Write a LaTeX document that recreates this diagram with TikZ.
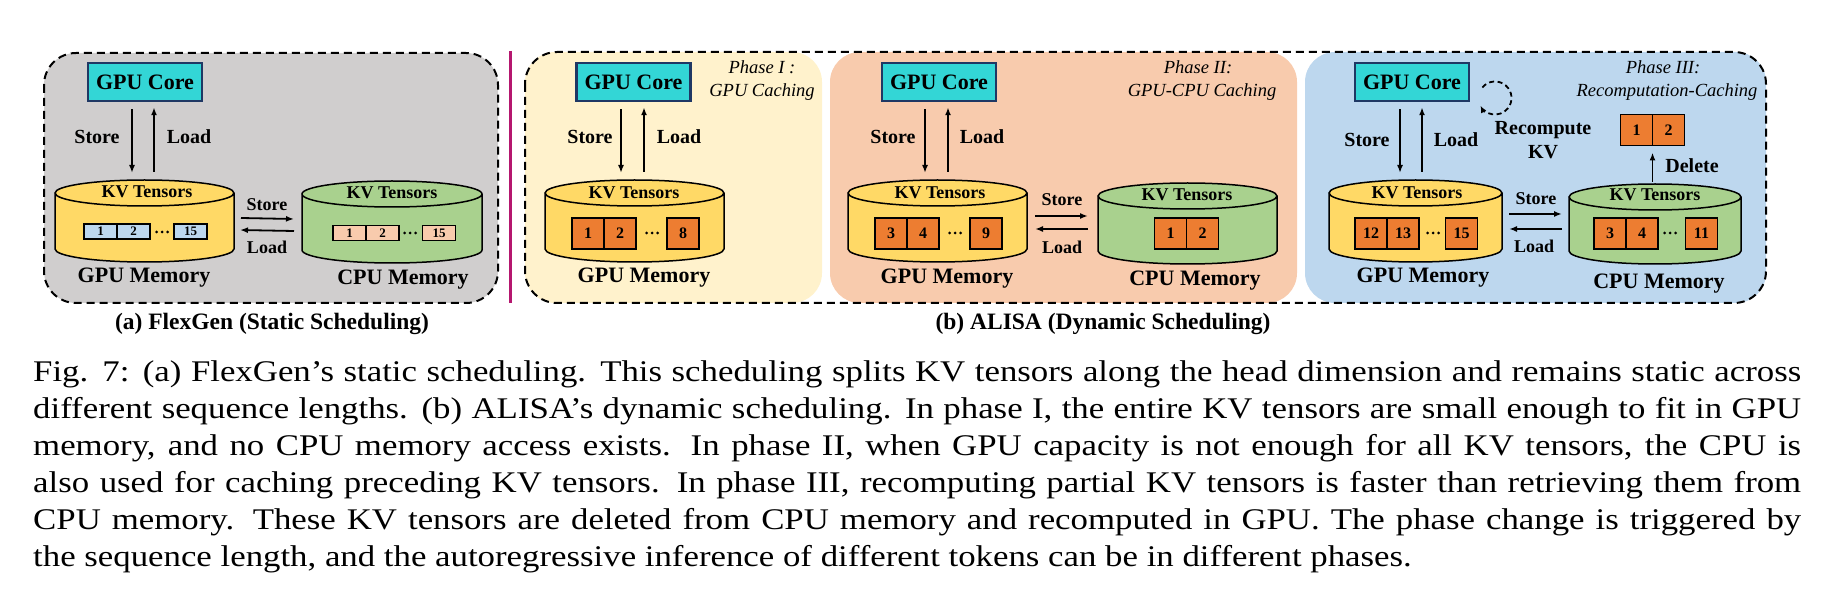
\documentclass[tikz,border=0pt]{standalone}
\usepackage{fontspec}
\setmainfont{Liberation Serif}
\newfontfamily\capfont{Liberation Serif}[FakeStretch=1.16]
\usetikzlibrary{arrows.meta,calc}
\definecolor{grayA}{HTML}{D0CECE}
\definecolor{phA}{HTML}{FFF2CC}
\definecolor{phB}{HTML}{F8CBAD}
\definecolor{phC}{HTML}{BDD7EE}
\definecolor{yel}{HTML}{FFD966}
\definecolor{grn}{HTML}{A9D18E}
\definecolor{tens}{HTML}{ED7D31}
\definecolor{lblue}{HTML}{BDD7EE}
\definecolor{peach}{HTML}{F8CBAD}
\definecolor{corefill}{HTML}{33D6D6}
\definecolor{coreline}{HTML}{1F3864}
\definecolor{mag}{HTML}{B5176F}
% name cx rx yt yb ry color
\newcommand{\mycyl}[7]{%
  \fill[#7] ({#2-#3},{-#4}) -- ({#2-#3},{-#5}) arc[start angle=180,end angle=360,x radius=#3pt,y radius=#6pt] -- ({#2+#3},{-#4}) arc[start angle=0,end angle=180,x radius=#3pt,y radius=#6pt] -- cycle;
  \draw[cylline] ({#2-#3},{-#4}) -- ({#2-#3},{-#5}) arc[start angle=180,end angle=360,x radius=#3pt,y radius=#6pt] -- ({#2+#3},{-#4}) arc[start angle=0,end angle=360,x radius=#3pt,y radius=#6pt];
  \node[inner sep=0pt,outer sep=0pt,minimum width={2*#3*1pt},minimum height={(#5-#4+2*#6)*1pt}] (#1) at ({#2},{-(#4+#5)/2}) {};
}
\newcommand{\tdots}[3]{%
  \fill (#2-5.5,-#3) circle[radius=1.5pt] (#2,-#3) circle[radius=1.5pt] (#2+5.5,-#3) circle[radius=1.5pt];
  \coordinate (#1) at (#2,-#3);
}
\begin{document}
\begin{tikzpicture}[x=1pt,y=1pt,
  cylline/.style={draw=black,line width=1.5pt},
  corebox/.style={draw=coreline,line width=2.5pt,fill=corefill,minimum width=114pt,minimum height=38pt,inner sep=0pt,font=\bfseries\fontsize{22}{24}\selectfont},
  vlbl/.style={anchor=base,inner sep=0pt,font=\bfseries\fontsize{20}{22}\selectfont},
  hlbl/.style={anchor=base,inner sep=0pt,font=\bfseries\fontsize{18}{20}\selectfont},
  kvl/.style={anchor=base,inner sep=0pt,font=\bfseries\fontsize{18}{20}\selectfont},
  meml/.style={anchor=base,inner sep=0pt,font=\bfseries\fontsize{22}{24}\selectfont},
  phl/.style={anchor=base,inner sep=0pt,font=\itshape\fontsize{18.5}{20}\selectfont},
  subcap/.style={anchor=base,inner sep=0pt,font=\bfseries\fontsize{23.5}{26}\selectfont},
  caplne/.style={anchor=base west,inner sep=0pt,font=\capfont\fontsize{30}{37}\selectfont},
  tsa/.style={draw=black,line width=1.5pt,fill=#1,minimum width=33pt,minimum height=15pt,inner sep=0pt,outer sep=0pt,font=\bfseries\fontsize{13}{13}\selectfont},
  tsb/.style={draw=black,line width=1.5pt,fill=tens,minimum width=32pt,minimum height=31pt,inner sep=0pt,outer sep=0pt,font=\bfseries\fontsize{16}{16}\selectfont},
  arr/.style={line width=1.8pt,-{Latex[length=8pt,width=6pt]}},
  dashbox/.style={draw=black,line width=2pt,dash pattern=on 8pt off 5pt,rounded corners=32pt},
  panelfill/.style={rounded corners=30pt}
]
\useasboundingbox (0,0) rectangle (1834,-612);
% ---------- panel (a) ----------
\fill[grayA,rounded corners=32pt] (44,-53) rectangle (498,-303);
\draw[dashbox] (44,-53) rectangle (498,-303);
\draw[mag,line width=3pt] (510,-51) -- (510,-303);
% ---------- panel (b) fills ----------
\fill[phA,panelfill] (525,-52) rectangle (822,-303);
\fill[phB,panelfill] (830,-52) rectangle (1297,-303);
\fill[phC,panelfill] (1305,-52) rectangle (1766,-303);
\draw[dashbox] (525,-52) rectangle (1766,-303);

% ---------- (a) content ----------
\node[corebox] (cA) at (145,-82) {GPU Core};
\mycyl{gA}{144.5}{89.5}{193}{249}{13}{yel}
\mycyl{pA}{392}{90}{194}{250}{13}{grn}
\draw[arr] ($(cA.south)+(-13,-7)$) -- ($(cA.south |- gA.north)+(-13,7)$);
\draw[arr] ($(cA.south |- gA.north)+(9,8)$) -- ($(cA.south)+(9,-5)$);
\node[vlbl] (sA) at (97,-143.6) {Store};
\node[vlbl] (lA) at (189,-143.6) {Load};
\node[kvl] (kgA) at (147,-198) {KV Tensors};
\node[kvl] (kpA) at (392,-199) {KV Tensors};
\node[tsa=lblue] (ga1) at (100.5,-231.5) {1};
\node[tsa=lblue,anchor=west] (ga2) at (ga1.east) {2};
\tdots{gad}{162}{232}
\node[tsa=lblue] (ga15) at (190.5,-231.5) {15};
\node[tsa=peach] (pa1) at (349.5,-233) {1};
\node[tsa=peach,anchor=west] (pa2) at (pa1.east) {2};
\tdots{pad}{410}{233}
\node[tsa=peach] (pa15) at (439,-233) {15};
\draw[arr] ($(gA.east)+(7,3)$) -- ($(pA.west)+(-8,3)$);
\draw[arr] ($(pA.west)+(-8,-9)$) -- ($(gA.east)+(6,-9)$);
\node[hlbl] (hsA) at (267,-211) {Store};
\node[hlbl] (hlA) at (267,-254) {Load};
\node[meml] (mgA) at (144,-283) {GPU Memory};
\node[meml] (mpA) at (403,-285) {CPU Memory};
\node[subcap] (capA) at (272,-330) {(a) FlexGen (Static Scheduling)};

% ---------- Phase I ----------
\node[corebox] (c1) at (633.5,-82) {GPU Core};
\mycyl{g1}{634.5}{89.5}{193}{249}{13}{yel}
\draw[arr] ($(c1.south)+(-12.5,-7)$) -- ($(c1.south |- g1.north)+(-12.5,7)$);
\draw[arr] ($(c1.south |- g1.north)+(10.5,8)$) -- ($(c1.south)+(10.5,-5)$);
\node[vlbl] (s1) at (590,-143.6) {Store};
\node[vlbl] (l1) at (679,-143.6) {Load};
\node[kvl] (kg1) at (634,-199) {KV Tensors};
\node[tsb] (t11) at (588,-233.5) {1};
\node[tsb,anchor=west] (t12) at (t11.east) {2};
\tdots{t1d}{652}{233}
\node[tsb] (t18) at (683,-233.5) {8};
\node[meml] (mg1) at (644,-283) {GPU Memory};
\node[phl] (ph1a) at (762,-74) {Phase I :};
\node[phl] (ph1b) at (762,-97) {GPU Caching};

% ---------- Phase II ----------
\node[corebox] (c2) at (939,-82) {GPU Core};
\mycyl{g2}{937.5}{89.5}{193}{249}{13}{yel}
\mycyl{p2}{1187.5}{89.5}{196}{251}{13}{grn}
\draw[arr] ($(c2.south)+(-14,-7)$) -- ($(c2.south |- g2.north)+(-14,7)$);
\draw[arr] ($(c2.south |- g2.north)+(9,8)$) -- ($(c2.south)+(9,-5)$);
\node[vlbl] (s2) at (893,-143.6) {Store};
\node[vlbl] (l2) at (982,-143.6) {Load};
\node[kvl] (kg2) at (940,-199) {KV Tensors};
\node[kvl] (kp2) at (1187,-201) {KV Tensors};
\node[tsb] (t23) at (891,-233.5) {3};
\node[tsb,anchor=west] (t24) at (t23.east) {4};
\tdots{t2d}{955}{233}
\node[tsb] (t29) at (986,-233.5) {9};
\node[tsb] (u21) at (1170.5,-233.5) {1};
\node[tsb,anchor=west] (u22) at (u21.east) {2};
\draw[arr] ($(g2.east)+(8,5)$) -- ($(p2.west)+(-10,7.5)$);
\draw[arr] ($(p2.west)+(-10,-5.5)$) -- ($(g2.east)+(8,-8)$);
\node[hlbl] (hs2) at (1062,-206) {Store};
\node[hlbl] (hl2) at (1062,-254) {Load};
\node[meml] (mg2) at (947,-284) {GPU Memory};
\node[meml] (mp2) at (1195,-286) {CPU Memory};
\node[phl] (ph2a) at (1198,-74) {Phase II:};
\node[phl] (ph2b) at (1202,-97) {GPU-CPU Caching};

% ---------- Phase III ----------
\node[corebox] (c3) at (1412,-82) {GPU Core};
\mycyl{g3}{1415.5}{86.5}{193}{249}{13}{yel}
\mycyl{p3}{1655}{86}{197}{251}{13}{grn}
\draw[arr] ($(c3.south)+(-12,-7)$) -- ($(c3.south |- g3.north)+(-12,7)$);
\draw[arr] ($(c3.south |- g3.north)+(10,8)$) -- ($(c3.south)+(10,-5)$);
\node[vlbl] (s3) at (1367,-146.6) {Store};
\node[vlbl] (l3) at (1456,-146.6) {Load};
\coordinate (lc) at (1495,-98);
\draw[line width=1.8pt,dash pattern=on 5pt off 3.5pt,-{Latex[length=7pt,width=6pt]}] ($(lc)+(140:16.5)$) arc[start angle=140,end angle=-152,radius=16.5pt];
\node[vlbl] (rc1) at (1543,-134.6) {Recompute};
\node[vlbl] (rc2) at (1543,-158.6) {KV};
\node[kvl] (kg3) at (1417,-199) {KV Tensors};
\node[kvl] (kp3) at (1655,-201) {KV Tensors};
\node[tsb] (t312) at (1371,-233.5) {12};
\node[tsb,anchor=west] (t313) at (t312.east) {13};
\tdots{t3d}{1433}{233}
\node[tsb] (t315) at (1461.5,-233.5) {15};
\node[tsb] (u33) at (1610,-233.5) {3};
\node[tsb,anchor=west] (u34) at (u33.east) {4};
\tdots{u3d}{1670}{233}
\node[tsb] (u311) at (1701.5,-233.5) {11};
\node[tsb] (d1) at (1636.5,-130) {1};
\node[tsb,anchor=west] (d2) at (d1.east) {2};
\draw[arr] ($(d1.south east |- p3.north)+(0,2)$) -- ($(d1.south east)+(0,-7)$);
\node[vlbl] (del) at (1692,-172.6) {Delete};
\draw[arr] ($(g3.east)+(7,7)$) -- ($(p3.west)+(-7,10)$);
\draw[arr] ($(p3.west)+(-7,-5)$) -- ($(g3.east)+(7,-8)$);
\node[hlbl] (hs3) at (1536,-205) {Store};
\node[hlbl] (hl3) at (1534,-253) {Load};
\node[meml] (mg3) at (1423,-283) {GPU Memory};
\node[meml] (mp3) at (1659,-289) {CPU Memory};
\node[phl] (ph3a) at (1663,-74) {Phase III:};
\node[phl] (ph3b) at (1667,-97) {Recomputation-Caching};
\node[subcap] (capB) at (1103,-330) {(b) ALISA (Dynamic Scheduling)};

% ---------- caption ----------
\node[caplne] (cl1) at (33,-381) {\makebox[1768pt][s]{Fig. 7: (a) FlexGen’s static scheduling. This scheduling splits KV tensors along the head dimension and remains static across}};
\node[caplne] (cl2) at (33,-418) {\makebox[1768pt][s]{different sequence lengths. (b) ALISA’s dynamic scheduling. In phase I, the entire KV tensors are small enough to fit in GPU}};
\node[caplne] (cl3) at (33,-455) {\makebox[1768pt][s]{memory, and no CPU memory access exists. In phase II, when GPU capacity is not enough for all KV tensors, the CPU is}};
\node[caplne] (cl4) at (33,-492) {\makebox[1768pt][s]{also used for caching preceding KV tensors. In phase III, recomputing partial KV tensors is faster than retrieving them from}};
\node[caplne] (cl5) at (33,-529) {\makebox[1768pt][s]{CPU memory. These KV tensors are deleted from CPU memory and recomputed in GPU. The phase change is triggered by}};
\node[caplne] (cl6) at (33,-566) {the sequence length, and the autoregressive inference of different tokens can be in different phases.};
\end{tikzpicture}
\end{document}
